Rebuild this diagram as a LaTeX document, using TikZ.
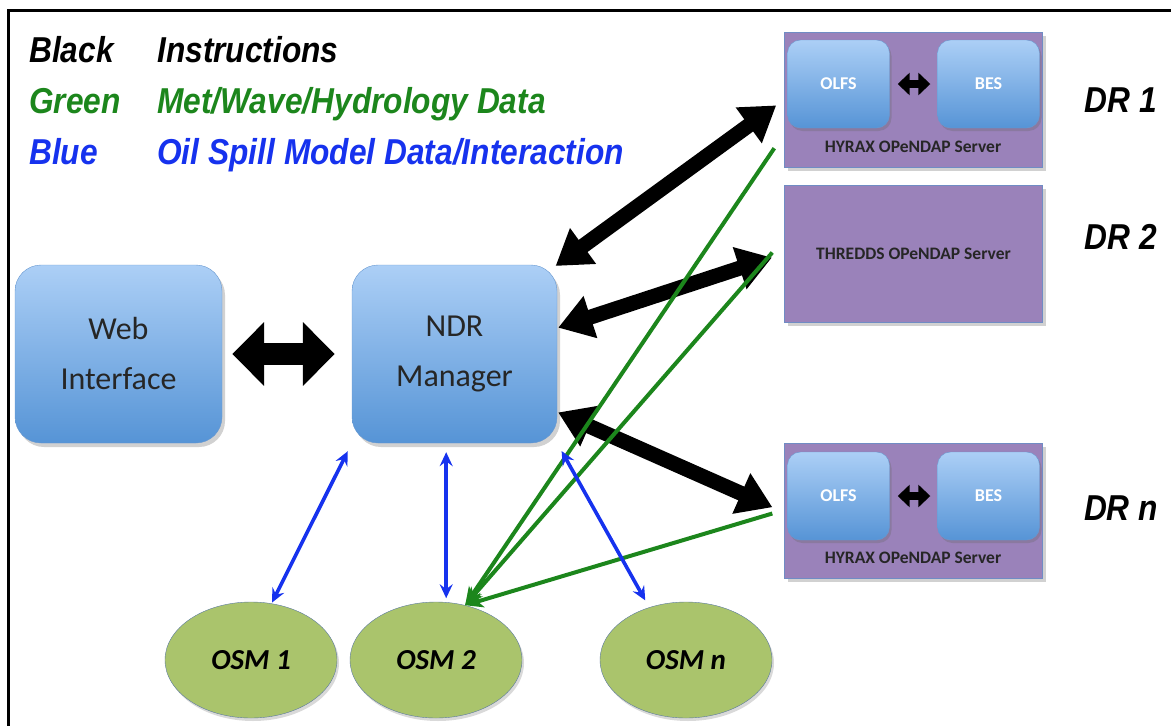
\documentclass[tikz,border=0pt]{standalone}
\usepackage{fontspec}
\setmainfont{Carlito}
\newfontfamily\legendfont{Liberation Sans}[FakeStretch=0.88]
\usetikzlibrary{arrows.meta,positioning,calc,shapes.geometric,shadows}

\definecolor{boxtop}{RGB}{172,207,246}
\definecolor{boxbot}{RGB}{86,148,214}
\definecolor{boxline}{RGB}{104,152,208}
\definecolor{serverfill}{RGB}{154,130,186}
\definecolor{serverline}{RGB}{112,140,196}
\definecolor{osmfill}{RGB}{170,196,108}
\definecolor{osmline}{RGB}{92,122,160}
\definecolor{modelblue}{RGB}{22,50,238}
\definecolor{metgreen}{RGB}{28,134,28}

\begin{document}
\begin{tikzpicture}[x=1pt,y=-1pt,semithick]

\tikzstyle{every node}=[inner sep=0pt]
\tikzstyle{bluebox}=[rectangle, rounded corners=26pt, top color=boxtop, bottom color=boxbot,
draw=boxline, thin, align=center, text=black!85, font=\fontsize{32}{50}\selectfont,
drop shadow={shadow xshift=3pt,shadow yshift=-4pt,opacity=0.3,fill=black!60}]
\tikzstyle{smallbox}=[rectangle, rounded corners=13pt, top color=boxtop, bottom color=boxbot,
draw=boxline, thin, minimum width=102pt, minimum height=88pt, text=white,
font=\fontsize{18}{20}\selectfont\bfseries,
drop shadow={shadow xshift=2pt,shadow yshift=-3pt,opacity=0.3,fill=black!60}]
\tikzstyle{server}=[rectangle, fill=serverfill, draw=serverline, thin,
minimum width=258pt, font=\fontsize{17.5}{20}\selectfont\bfseries, text=black!85,
drop shadow={shadow xshift=3pt,shadow yshift=-4pt,opacity=0.3,fill=black!60}]
\tikzstyle{osm}=[ellipse, fill=osmfill, draw=osmline, thin, minimum width=172pt,
minimum height=116pt, font=\fontsize{29}{30}\selectfont\bfseries\itshape,
drop shadow={shadow xshift=2pt,shadow yshift=-3pt,opacity=0.25,fill=black!60}]
\tikzstyle{legend}=[anchor=base west, font=\legendfont\fontsize{36}{38}\selectfont\bfseries\itshape]
\tikzstyle{drlabel}=[font=\legendfont\fontsize{36}{38}\selectfont\bfseries\itshape]
\tikzstyle{bigarrow}=[{Triangle[length=32pt,width=62pt]}-{Triangle[length=32pt,width=62pt]}, line width=22pt]
\tikzstyle{blackarrow}=[{Triangle[length=34pt,width=42pt]}-{Triangle[length=34pt,width=42pt]}, line width=15pt]
\tikzstyle{tinyarrow}=[{Triangle[length=12pt,width=22pt]}-{Triangle[length=12pt,width=22pt]}, line width=8pt]
\tikzstyle{bluearrow}=[{Stealth[length=14pt,width=13pt,inset=5pt]}-{Stealth[length=14pt,width=13pt,inset=5pt]}, modelblue, line width=3.6pt]
\tikzstyle{greenarrow}=[-{Stealth[length=18pt,width=15pt,inset=5pt]}, metgreen, line width=4pt]

\useasboundingbox (0,0) rectangle (1171,726);

%frame
\draw[line width=3pt] (8,726) -- (8,10) -- (1171,10);

%legend
\node[legend] (kblack) at (29,62) {Black};
\node[legend] (kinstr) at (157,62) {Instructions};
\node[legend, text=metgreen] (kgreen) at (29,113) {Green};
\node[legend, text=metgreen] (kmet) at (157,113) {Met/Wave/Hydrology Data};
\node[legend, text=modelblue] (kblue) at (29,164) {Blue};
\node[legend, text=modelblue] (kmodel) at (157,164) {Oil Spill Model Data/Interaction};

%web interface and manager
\node[bluebox, minimum width=207pt, minimum height=178pt]
(web) at (118.5,354)
{Web\\Interface};

\node[bluebox, minimum width=205pt, minimum height=178pt]
(ndr) at (454.5,354)
{NDR\\Manager};

%data servers
\node[server, minimum height=135pt] (dr1) at (913.5,99.5) {};
\node[smallbox] (dr1olfs) at (838.5,84) {OLFS};
\node[smallbox] (dr1bes) at (988.5,84) {BES};
\node (dr1txt) at (913,147) {\fontsize{17.5}{20}\selectfont\bfseries\color{black!85}HYRAX OPeNDAP Server};

\node[server, minimum height=137pt] (dr2) at (913.5,253.5) {THREDDS OPeNDAP Server};

\node[server, minimum height=135pt] (drn) at (913.5,510.5) {};
\node[smallbox] (drnolfs) at (838.5,496) {OLFS};
\node[smallbox] (drnbes) at (988.5,496) {BES};
\node (drntxt) at (913,558) {\fontsize{17.5}{20}\selectfont\bfseries\color{black!85}HYRAX OPeNDAP Server};

\node[drlabel] (dr1lab) at (1121,100) {DR 1};
\node[drlabel] (dr2lab) at (1121,237) {DR 2};
\node[drlabel] (drnlab) at (1121,508) {DR n};

%oil spill models
\node[osm] (osm1) at (251,660) {OSM 1};
\node[osm] (osm2) at (436,660) {OSM 2};
\node[osm] (osmn) at (686,660) {OSM n};

%instructions
\draw[bigarrow, shorten <=10pt, shorten >=17pt] (web.east) -- (ndr.west);
\draw[tinyarrow, shorten <=8pt, shorten >=7pt] (dr1olfs.east) -- (dr1bes.west);
\draw[tinyarrow, shorten <=8pt, shorten >=7pt] (drnolfs.east) -- (drnbes.west);
\draw[blackarrow, shorten <=-2pt, shorten >=10pt] (ndr.north east) -- (dr1.west);
\draw[blackarrow, shorten <=1pt, shorten >=13pt] ($(ndr.east)+(0,-26)$) -- (dr2.west);
\draw[blackarrow, shorten <=1pt, shorten >=13pt] ($(ndr.east)+(0,58)$) -- ($(drn.west)+(0,2)$);

%met data
\draw[greenarrow] ($(dr1.south west)+(-10,-19)$) -- (osm2.62);
\draw[greenarrow] ($(dr2.west)+(-12,-1)$) -- (osm2.62);
\draw[greenarrow] ($(drn.west)+(-12,3)$) -- (osm2.62);

%model data
\draw[bluearrow, shorten <=1pt, shorten >=9pt] (osm1.70) -- (ndr.south west);
\draw[bluearrow, shorten <=4pt, shorten >=9pt] (osm2.80) -- (osm2.80 |- ndr.south);
\draw[bluearrow, shorten <=8pt, shorten >=9pt] (osmn.125) -- (ndr.south east);

\end{tikzpicture}
\end{document}
